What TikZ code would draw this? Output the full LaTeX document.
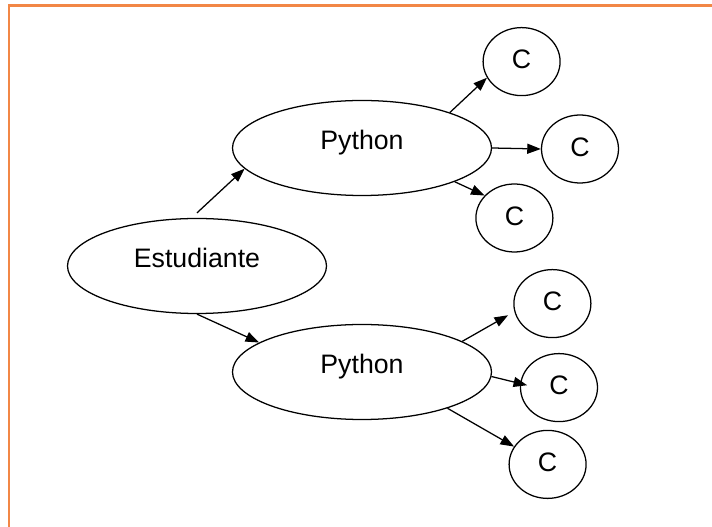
\documentclass[tikz,border=0pt]{standalone}
\usepackage{fontspec}
\setmainfont{Liberation Sans}
\usetikzlibrary{shapes.geometric,arrows.meta}
\definecolor{frameorange}{RGB}{242,135,70}
\tikzset{
  bigoval/.style={draw,ellipse,line width=0.9pt,minimum width=6.475cm,minimum height=2.375cm,inner sep=0pt,text height=0.73em,text depth=0.5em},
  smalloval/.style={draw,ellipse,line width=0.9pt,minimum width=1.925cm,minimum height=1.7cm,inner sep=0pt,text height=1.0em,text depth=0pt},
  arr/.style={-{Triangle[length=0.34cm,width=0.25cm]},line width=0.9pt}
}
\begin{document}
\begin{tikzpicture}[font=\fontsize{19}{22}\selectfont]
\useasboundingbox (0,0) rectangle (17.8,-13.175);
\draw[frameorange,line width=1.7pt] (0.225,-13.5) -- (0.225,-0.14) -- (18.0,-0.14);
\node[bigoval] (estud) at (4.925,-6.65) {Estudiante};
\node[bigoval] (pyup) at (9.05,-3.7) {Python};
\node[bigoval] (pydown) at (9.05,-9.3) {Python};
\node[smalloval] (c1) at (13.04,-1.54) {C};
\node[smalloval] (c2) at (14.50,-3.725) {C};
\node[smalloval] (c3) at (12.86,-5.45) {C};
\node[smalloval] (c4) at (13.81,-7.59) {C};
\node[smalloval] (c5) at (13.975,-9.69) {C};
\node[smalloval] (c6) at (13.69,-11.61) {C};
\draw[arr] ([yshift=0.125cm]estud.north) -- (pyup.190);
\draw[arr] (estud.south) -- (pydown.164);
\draw[arr] (pyup.22) -- (c1.205);
\draw[arr] (pyup.east) -- (c2.west);
\draw[arr] (pyup.340) -- (c3.143);
\draw[arr,shorten >=0.18cm] (pydown.17) -- (c4.192);
\draw[arr,shorten >=-0.18cm] (pydown.358) -- (c5.174);
\draw[arr] (pydown.337) -- (c6.152);
\end{tikzpicture}
\end{document}
